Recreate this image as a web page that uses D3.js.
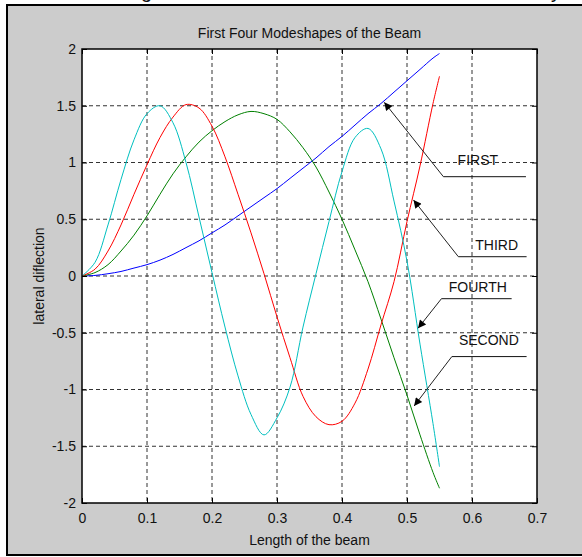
<!DOCTYPE html>
<html>
<head>
<meta charset="utf-8">
<script src="https://cdn.jsdelivr.net/npm/d3@7"></script>
<style>
  body { margin: 0; background: #fff; }
  text { font-family: "Liberation Sans", Arial, sans-serif; fill: #111; }
</style>
</head>
<body>
<div id="chart"></div>
<script>
// beam positions, shared by all four modes
const xs = [0, 0.02, 0.04, 0.06, 0.08, 0.10, 0.12, 0.14, 0.16, 0.18, 0.20, 0.22, 0.24, 0.26, 0.28,
            0.30, 0.32, 0.34, 0.36, 0.38, 0.40, 0.42, 0.44, 0.46, 0.48, 0.50, 0.52, 0.54, 0.55];

const firstMode  = [0, 0.005, 0.02, 0.04, 0.07, 0.10, 0.14, 0.19, 0.25, 0.31, 0.38, 0.45, 0.53, 0.61, 0.69,
                    0.77, 0.86, 0.95, 1.04, 1.14, 1.23, 1.33, 1.43, 1.52, 1.62, 1.72, 1.82, 1.92, 1.96];
const secondMode = [0, 0.03, 0.10, 0.22, 0.36, 0.53, 0.72, 0.90, 1.05, 1.18, 1.28, 1.36, 1.42, 1.45, 1.43,
                    1.38, 1.27, 1.13, 0.96, 0.74, 0.50, 0.23, -0.05, -0.38, -0.72, -1.05, -1.40, -1.73, -1.87];
const thirdMode  = [0, 0.06, 0.22, 0.45, 0.72, 0.98, 1.22, 1.40, 1.51, 1.48, 1.32, 1.05, 0.72, 0.38, 0.02,
                    -0.36, -0.72, -1.06, -1.24, -1.31, -1.28, -1.12, -0.82, -0.43, -0.05, 0.48, 0.97, 1.52, 1.76];
const fourthMode = [0, 0.12, 0.45, 0.85, 1.20, 1.43, 1.50, 1.35, 1.00, 0.52, 0.03, -0.45, -0.88, -1.22, -1.40,
                    -1.25, -0.98, -0.45, 0.02, 0.48, 0.92, 1.22, 1.30, 1.12, 0.66, 0.13, -0.60, -1.30, -1.68];

const xTicks = [0, 0.1, 0.2, 0.3, 0.4, 0.5, 0.6, 0.7];
const yTicks = [-2, -1.5, -1, -0.5, 0, 0.5, 1, 1.5, 2];

// annotation: label, where the label sits, arrow tip, elbow, end of the underline (data units)
const notes = [
  { label: "FIRST",  at: [0.609, 0.98],  tip: [0.465, 1.53],   elbow: [0.556, 0.875], end: [0.683, 0.875] },
  { label: "THIRD",  at: [0.638, 0.23],  tip: [0.510, 0.67],   elbow: [0.579, 0.17],  end: [0.684, 0.17] },
  { label: "FOURTH", at: [0.609, -0.14], tip: [0.517, -0.46],  elbow: [0.553, -0.20], end: [0.661, -0.20] },
  { label: "SECOND", at: [0.626, -0.61], tip: [0.511, -1.145], elbow: [0.569, -0.71], end: [0.684, -0.71] }
];

const W = 582, H = 557;
const plot = { left: 82, right: 537, top: 49, bottom: 503 };

const svg = d3.select("#chart").append("svg")
    .attr("width", W).attr("height", H);

svg.append("rect").attr("width", W).attr("height", H).attr("fill", "#fff");

// descenders of the page line cut off above the figure
svg.append("text").attr("x", 141).attr("y", -2).style("font-size", "20px").text("g");
svg.append("text").attr("x", 551).attr("y", -2).style("font-size", "20px").text("y");

// figure window
svg.append("rect")
    .attr("x", 7).attr("y", 5).attr("width", W).attr("height", 550)
    .attr("fill", "#cccccc").attr("stroke", "#000").attr("stroke-width", 2);

const x = d3.scaleLinear().domain([0, 0.7]).range([plot.left, plot.right]);
const y = d3.scaleLinear().domain([-2, 2]).range([plot.bottom, plot.top]);

svg.append("rect")
    .attr("x", plot.left).attr("y", plot.top)
    .attr("width", plot.right - plot.left).attr("height", plot.bottom - plot.top)
    .attr("fill", "#fff");

// grid
const grid = svg.append("g").attr("stroke", "#333").attr("stroke-dasharray", "4,3").attr("stroke-width", 1);
grid.selectAll(".vg").data(xTicks.slice(1, -1)).enter().append("line")
    .attr("x1", d => x(d)).attr("x2", d => x(d))
    .attr("y1", plot.top).attr("y2", plot.bottom);
grid.selectAll(".hg").data(yTicks.slice(1, -1)).enter().append("line")
    .attr("y1", d => y(d)).attr("y2", d => y(d))
    .attr("x1", plot.left).attr("x2", plot.right);

// curves
const line = d3.line()
    .x((d, i) => x(xs[i]))
    .y(d => y(d))
    .curve(d3.curveCatmullRom.alpha(0.5));

const modes = [
  { values: firstMode,  color: "#0000ff" },
  { values: secondMode, color: "#008000" },
  { values: thirdMode,  color: "#ff0000" },
  { values: fourthMode, color: "#00bfbf" }
];

svg.selectAll(".mode").data(modes).enter().append("path")
    .attr("class", "mode")
    .attr("d", d => line(d.values))
    .attr("fill", "none")
    .attr("stroke", d => d.color)
    .attr("stroke-width", 1);

// axes box with inward ticks
svg.append("g").attr("transform", "translate(0," + plot.bottom + ")")
    .call(d3.axisBottom(x).tickValues(xTicks).tickSizeInner(-5).tickSizeOuter(0).tickPadding(10)
      .tickFormat(d => d === 0 ? "0" : d3.format(".1f")(d)))
    .call(g => g.select(".domain").remove())
    .call(g => g.selectAll("text").style("font-size", "14px").attr("fill", "#111"));

svg.append("g").attr("transform", "translate(" + plot.left + ",0)")
    .call(d3.axisLeft(y).tickValues(yTicks).tickSizeInner(-5).tickSizeOuter(0).tickPadding(6)
      .tickFormat(d => String(d)))
    .call(g => g.select(".domain").remove())
    .call(g => g.selectAll("text").style("font-size", "14px").attr("fill", "#111"));

svg.append("g").attr("transform", "translate(0," + plot.top + ")")
    .call(d3.axisTop(x).tickValues(xTicks).tickSizeInner(-5).tickSizeOuter(0).tickFormat(""))
    .call(g => g.select(".domain").remove());

svg.append("g").attr("transform", "translate(" + plot.right + ",0)")
    .call(d3.axisRight(y).tickValues(yTicks).tickSizeInner(-5).tickSizeOuter(0).tickFormat(""))
    .call(g => g.select(".domain").remove());

svg.append("rect")
    .attr("x", plot.left).attr("y", plot.top)
    .attr("width", plot.right - plot.left).attr("height", plot.bottom - plot.top)
    .attr("fill", "none").attr("stroke", "#000").attr("stroke-width", 1.5);

// titles
svg.append("text")
    .attr("x", (plot.left + plot.right) / 2).attr("y", 38)
    .attr("text-anchor", "middle").style("font-size", "14px")
    .text("First Four Modeshapes of the Beam");

svg.append("text")
    .attr("x", (plot.left + plot.right) / 2).attr("y", 545)
    .attr("text-anchor", "middle").style("font-size", "14px")
    .text("Length of the beam");

svg.append("text")
    .attr("transform", "translate(44," + y(0) + ") rotate(-90)")
    .attr("text-anchor", "middle").style("font-size", "14px")
    .text("lateral diflection");

// arrows
svg.append("defs").append("marker")
    .attr("id", "head").attr("viewBox", "0 0 10 10")
    .attr("refX", 10).attr("refY", 5)
    .attr("markerWidth", 11).attr("markerHeight", 8)
    .attr("markerUnits", "userSpaceOnUse")
    .attr("orient", "auto")
  .append("path").attr("d", "M0,0L10,5L0,10Z").attr("fill", "#000");

const ann = svg.selectAll(".note").data(notes).enter().append("g").attr("class", "note");

ann.append("line")
    .attr("x1", d => x(d.elbow[0])).attr("y1", d => y(d.elbow[1]))
    .attr("x2", d => x(d.tip[0])).attr("y2", d => y(d.tip[1]))
    .attr("stroke", "#222").attr("stroke-width", 1)
    .attr("marker-end", "url(#head)");

ann.append("line")
    .attr("x1", d => x(d.elbow[0])).attr("y1", d => y(d.elbow[1]))
    .attr("x2", d => x(d.end[0])).attr("y2", d => y(d.end[1]))
    .attr("stroke", "#111").attr("stroke-width", 1);

ann.append("text")
    .attr("x", d => x(d.at[0]))
    .attr("y", d => y(d.at[1]))
    .attr("text-anchor", "middle").style("font-size", "14px")
    .text(d => d.label);
</script>
</body>
</html>
